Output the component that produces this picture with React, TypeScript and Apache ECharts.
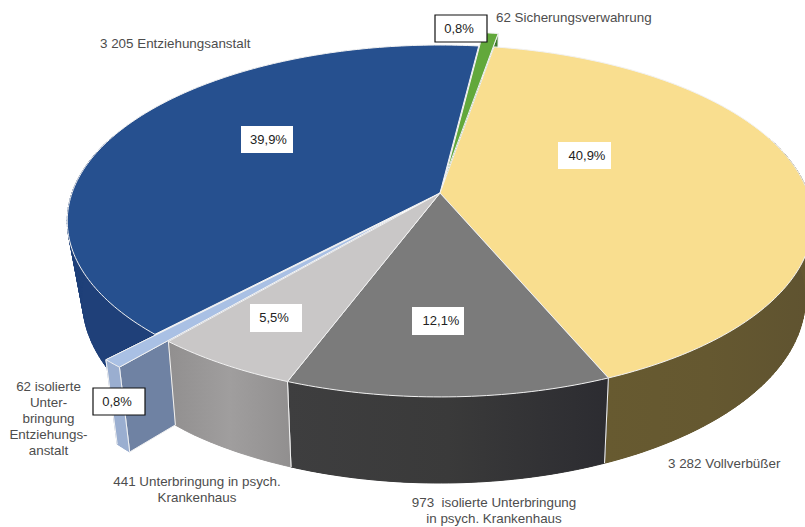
import React, { useEffect, useRef } from "react";
import * as echarts from "echarts";

// Slices clockwise from the top of the pie
const sliceNames = ["Sicherungsverwahrung", "Vollverbüßer", "isolierte Unterbringung in psych. Krankenhaus", "Unterbringung in psych. Krankenhaus", "isolierte Unterbringung Entziehungsanstalt", "Entziehungsanstalt"];
const sliceValues = [62, 3282, 973, 441, 62, 3205];
const slicePull = [0.107, 0, 0, 0, 0.152, 0];
const topColors = ["#62a83b", "#f9de8f", "#7b7b7b", "#c9c7c7", "#a9c0e4", "#26508f"];
const wallLeft = ["#3f7a2e", "#675a30", "#3e3e3f", "#918f8f", "#9aaed0", "#1f4079"];
const wallMid = ["#3f7a2e", "#655830", "#3a3a3a", "#a09e9e", "#9aaed0", "#1f4079"];
const wallRight = ["#3f7a2e", "#5f5330", "#2c2c31", "#918f8f", "#9aaed0", "#1f4079"];
const cutColors = ["#3f7a2e", "#675a30", "#38383a", "#9b9999", "#6f82a3", "#1f4079"];
const drawOrder = [0, 5, 4, 1, 2, 3];
const firstAngle = 7;

const W = 805, H = 527;
const CX = 440, CY = 193, A = 368, B = 171.5, KV = 0.159, KZ = 0.02, DZ = 78.2;

const total = sliceValues.reduce((s, v) => s + v, 0);
const sliceStart: number[] = [];
sliceValues.reduce((acc, v, i) => { sliceStart[i] = acc; return acc + (v / total) * 360; }, firstAngle);
const rad = (d: number) => (d * Math.PI) / 180;

function project(u: number, v: number, z: number): number[] {
  const w = 1 + KV * v + KZ * z;
  const pinch = z * 8 * Math.max(0, -u - 0.6) / 0.4;
  return [CX + (A * u) / w + pinch, CY + (-B * v + DZ * z) / w];
}

function renderSlice(_: any, api: any) {
  const i = api.value(0);
  const a0 = sliceStart[i];
  const a1 = a0 + (sliceValues[i] / total) * 360;
  const mid = rad((a0 + a1) / 2);
  const ou = slicePull[i] * Math.sin(mid), ov = slicePull[i] * Math.cos(mid);
  const rim = (deg: number, z: number) => project(ou + Math.sin(rad(deg)), ov + Math.cos(rad(deg)), z);
  const steps = Math.max(2, Math.ceil(a1 - a0));
  const top: number[][] = [], wallTop: number[][] = [], wallBottom: number[][] = [];
  for (let s = 0; s <= steps; s++) {
    const d = a0 + ((a1 - a0) * s) / steps;
    top.push(rim(d, 0));
    if (Math.cos(rad(d)) < 0.35) {
      wallTop.push(rim(d, 0));
      wallBottom.push(rim(d, 1));
    }
  }
  const apexT = project(ou, ov, 0), apexB = project(ou, ov, 1);
  const poly = (points: number[][], fill: any, stroke: string = "#f2f2f2") => ({
    type: "polygon", shape: { points }, silent: true,
    style: { fill, stroke, lineWidth: 1, lineJoin: "round" },
  });
  const edge = (a: number[], b: number[]) => ({
    type: "polyline", shape: { points: [a, b] }, silent: true,
    style: { fill: "none", stroke: "#f2f2f2", lineWidth: 1 },
  });
  const children: any[] = [];
  if (slicePull[i] > 0) {
    children.push(poly([apexT, top[steps], rim(a1, 1), apexB], cutColors[i]));
    children.push(poly([apexT, top[0], rim(a0, 1), apexB], cutColors[i]));
  }
  const n = wallTop.length;
  if (n > 1) {
    for (let s = 0; s + 1 < n; s++) {
      children.push(poly([wallTop[s], wallTop[s + 1], wallBottom[s + 1], wallBottom[s]], wallMid[i], wallMid[i]));
    }
    children.push(poly([...wallTop, ...wallBottom.slice().reverse()], {
      type: "linear", x: 0, y: 0, x2: 1, y2: 0,
      colorStops: [
        { offset: 0, color: wallLeft[i] },
        { offset: 0.5, color: wallMid[i] },
        { offset: 1, color: wallRight[i] },
      ],
    }, "none"));
    children.push(edge(wallTop[0], wallBottom[0]));
    children.push(edge(wallTop[n - 1], wallBottom[n - 1]));
  }
  children.push(poly([apexT, ...top], topColors[i]));
  return { type: "group", children };
}

const percentLabels = ["39,9%", "40,9%", "5,5%", "12,1%", "0,8%", "0,8%"];
const percentBoxes = [[241, 126, 52, 27, 0, 1.5], [558, 142, 53, 27, 0, 2.5], [250, 304, 52, 28, 0, -2], [412, 307, 52, 28, 0, 3], [435, 15, 52, 27, 1, -2], [93, 388, 52, 27, 1, -2]];
const nameLabels = [
  "62 Sicherungsverwahrung",
  "3 205 Entziehungsanstalt",
  "62 isolierte\nUnter-\nbringung\nEntziehungs-\nanstalt",
  "441 Unterbringung in psych.\nKrankenhaus",
  "973  isolierte Unterbringung\nin psych. Krankenhaus",
  "3 282 Vollverbüßer",
];
const namePlaces: any[] = [
  [496, 17, "left"], [100, 43, "left"], [48.5, 418, "center"], [197, 489, "center"], [494, 510, "center"], [668, 463, "left"],
];

export default function App() {
  const ref = useRef<HTMLDivElement>(null);
  useEffect(() => {
    document.body.style.margin = "0";
    const chart = echarts.init(ref.current!, undefined, { renderer: "svg" });
    const graphics: any[] = [];
    percentBoxes.forEach((b, i) => {
      graphics.push({
        type: "rect", z: 100, silent: true,
        shape: { x: b[0], y: b[1], width: b[2], height: b[3] },
        style: { fill: "#fff", stroke: b[4] ? "#111" : "#fff", lineWidth: b[4] ? 1.2 : 0 },
      });
      graphics.push({
        type: "text", z: 101, silent: true, x: b[0] + b[2] / 2 + b[5], y: b[1] + b[3] / 2 - 0.5,
        style: { text: percentLabels[i], fill: "#222", font: "13px 'Liberation Sans'", align: "center", verticalAlign: "middle" },
      });
    });
    nameLabels.forEach((t, i) => {
      const p = namePlaces[i];
      graphics.push({
        type: "text", z: 101, silent: true, x: p[0], y: p[1],
        style: { text: t, fill: "#4d4d4d", font: "13.4px 'Liberation Sans'", align: p[2], verticalAlign: "middle", lineHeight: 16 },
      });
    });
    chart.setOption({
      animation: false,
      backgroundColor: "#fff",
      series: [{
        type: "custom",
        coordinateSystem: "none",
        renderItem: renderSlice,
        silent: true,
        clip: false,
        data: drawOrder.map((i) => ({ name: sliceNames[i], value: [i] })),
      }],
      graphic: { elements: graphics },
    });
    return () => chart.dispose();
  }, []);
  return <div ref={ref} style={{ width: W, height: H }} />;
}
